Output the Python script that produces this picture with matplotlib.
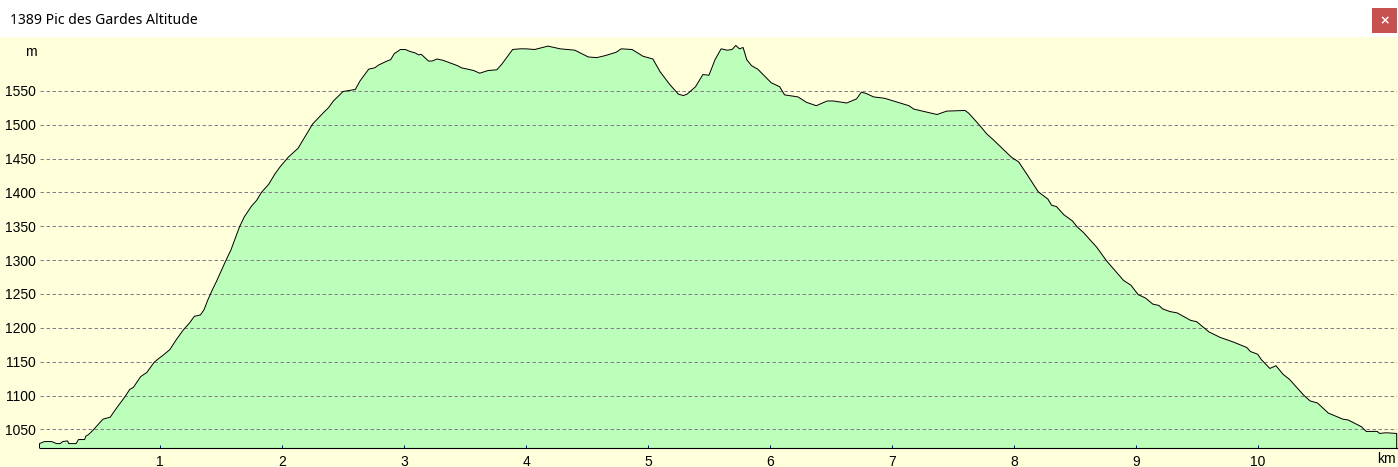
#!/usr/bin/env python

import numpy as np
import matplotlib
matplotlib.use("Agg")
import matplotlib.pyplot as plt
from matplotlib.patches import Rectangle

TITLE = "1389 Pic des Gardes Altitude"

km = [0.01, 0.05, 0.11, 0.15, 0.18, 0.20, 0.24, 0.25, 0.31, 0.33, 0.38, 0.39, 0.41, 0.45, 0.53, 0.59,
      0.64, 0.71, 0.75, 0.78, 0.84, 0.89, 0.95, 0.99, 1.02, 1.08, 1.13, 1.19, 1.24, 1.28, 1.33, 1.36,
      1.39, 1.43, 1.46, 1.54, 1.58, 1.65, 1.69, 1.75, 1.79, 1.83, 1.89, 1.94, 1.98, 2.05, 2.13, 2.18,
      2.25, 2.34, 2.38, 2.42, 2.50, 2.60, 2.64, 2.71, 2.76, 2.79, 2.86, 2.89, 2.92, 2.97, 3.01, 3.05,
      3.09, 3.12, 3.14, 3.20, 3.23, 3.27, 3.32, 3.44, 3.47, 3.57, 3.62, 3.69, 3.76, 3.80, 3.89, 3.95,
      4.00, 4.07, 4.18, 4.28, 4.40, 4.51, 4.58, 4.65, 4.74, 4.78, 4.87, 4.96, 5.04, 5.10, 5.18, 5.25,
      5.29, 5.32, 5.39, 5.45, 5.50, 5.55, 5.60, 5.65, 5.69, 5.72, 5.75, 5.78, 5.81, 5.85, 5.90, 5.96,
      6.01, 6.08, 6.12, 6.23, 6.30, 6.38, 6.47, 6.52, 6.63, 6.71, 6.75, 6.79, 6.85, 6.94, 7.14, 7.18,
      7.37, 7.45, 7.60, 7.63, 7.71, 7.78, 7.83, 7.98, 8.04, 8.11, 8.20, 8.28, 8.31, 8.35, 8.41, 8.48,
      8.52, 8.57, 8.68, 8.72, 8.76, 8.90, 8.96, 9.02, 9.08, 9.14, 9.19, 9.22, 9.28, 9.34, 9.45, 9.50,
      9.60, 9.69, 9.80, 9.91, 9.94, 10.00, 10.03, 10.10, 10.15, 10.21, 10.26, 10.38, 10.43, 10.49,
      10.58, 10.70, 10.74, 10.85, 10.89, 10.98, 11.00, 11.05, 11.14]

altitude = [1029, 1032, 1032, 1029, 1029, 1032, 1033, 1029, 1029, 1035, 1035, 1040, 1042, 1049, 1065, 1068,
            1081, 1098, 1109, 1112, 1128, 1134, 1149, 1155, 1159, 1168, 1182, 1197, 1207, 1217, 1219, 1227,
            1241, 1257, 1268, 1300, 1315, 1349, 1364, 1380, 1388, 1400, 1412, 1427, 1437, 1452, 1465, 1480,
            1501, 1518, 1525, 1535, 1549, 1552, 1565, 1582, 1584, 1588, 1594, 1596, 1605, 1611, 1611, 1608,
            1606, 1603, 1604, 1594, 1594, 1597, 1595, 1587, 1584, 1580, 1576, 1580, 1581, 1589, 1611, 1612,
            1612, 1611, 1616, 1612, 1610, 1600, 1599, 1602, 1607, 1612, 1611, 1601, 1597, 1578, 1559, 1545,
            1543, 1545, 1556, 1574, 1573, 1596, 1612, 1610, 1611, 1617, 1612, 1614, 1596, 1587, 1582, 1571,
            1562, 1556, 1544, 1541, 1533, 1528, 1535, 1535, 1532, 1538, 1548, 1546, 1541, 1539, 1528, 1523,
            1515, 1520, 1521, 1517, 1501, 1486, 1478, 1452, 1445, 1426, 1401, 1390, 1381, 1379, 1367, 1358,
            1349, 1341, 1319, 1309, 1299, 1270, 1263, 1249, 1244, 1235, 1233, 1228, 1224, 1222, 1211, 1209,
            1194, 1186, 1179, 1171, 1165, 1161, 1153, 1140, 1144, 1131, 1124, 1100, 1092, 1089,
            1074, 1065, 1064, 1054, 1047, 1047, 1044, 1045, 1044]

km_ticks = [1, 2, 3, 4, 5, 6, 7, 8, 9, 10]
alt_ticks = [1050, 1100, 1150, 1200, 1250, 1300, 1350, 1400, 1450, 1500, 1550]

W, H = 1398, 467
CREAM = "#FFFFDC"
GREEN = "#BBFFBB"

fig = plt.figure(figsize=(W / 100, H / 100), dpi=100, facecolor=CREAM)

# white title bar with the close button
fig.patches.append(Rectangle((0, 1 - 37 / H), 1, 37 / H, transform=fig.transFigure, fc="white", ec="none"))
fig.patches.append(Rectangle((1372 / W, 1 - 33 / H), 25 / W, 25 / H, transform=fig.transFigure, fc="#C75050", ec="none"))
fig.text(1384.5 / W, 1 - 20.5 / H, "×", color="white", fontsize=9, fontweight="bold",
         ha="center", va="center", family="DejaVu Sans")
fig.text(10 / W, 1 - 20 / H, TITLE, color="black", fontsize=10.1, ha="left", va="center", family="Noto Sans")

ax = fig.add_axes([39.5 / W, 1 - 448 / H, 1357.2 / W, 410 / H])
ax.set_facecolor("none")
ax.set_xlim(0.01, 11.14)
ax.set_ylim(1022.5, 1628)

ax.fill_between(km, altitude, 1022.5, color=GREEN, lw=0, zorder=1)
for a in alt_ticks:
    ax.axhline(a, color="#858088", lw=0.72, dashes=(3.5, 2.5), zorder=2)
x = np.r_[km[0], km, km[-1]]
y = np.r_[1022.5, altitude, 1022.5]
ax.plot(x, y, color="black", lw=0.72, zorder=3, clip_on=False)

for s in ["top", "right", "left"]:
    ax.spines[s].set_visible(False)
ax.spines["bottom"].set_linewidth(0.8)
ax.spines["bottom"].set_zorder(4)

ax.set_xticks(km_ticks)
ax.set_yticks(alt_ticks)
ax.tick_params(axis="x", direction="in", length=2.5, width=0.72, color="#0000E0", pad=5, labelsize=10)
ax.tick_params(axis="y", length=0, pad=2.5, labelsize=10)
for t in ax.get_xticklabels() + ax.get_yticklabels():
    t.set_family("Liberation Sans")

fig.text(36.5 / W, 1 - 52 / H, "m", fontsize=10, ha="right", va="center", family="Liberation Sans")
fig.text(1396 / W, 1 - 459 / H, "km", fontsize=10, ha="right", va="center", family="Liberation Sans")

fig.savefig("out.png", dpi=100, facecolor=fig.get_facecolor())
